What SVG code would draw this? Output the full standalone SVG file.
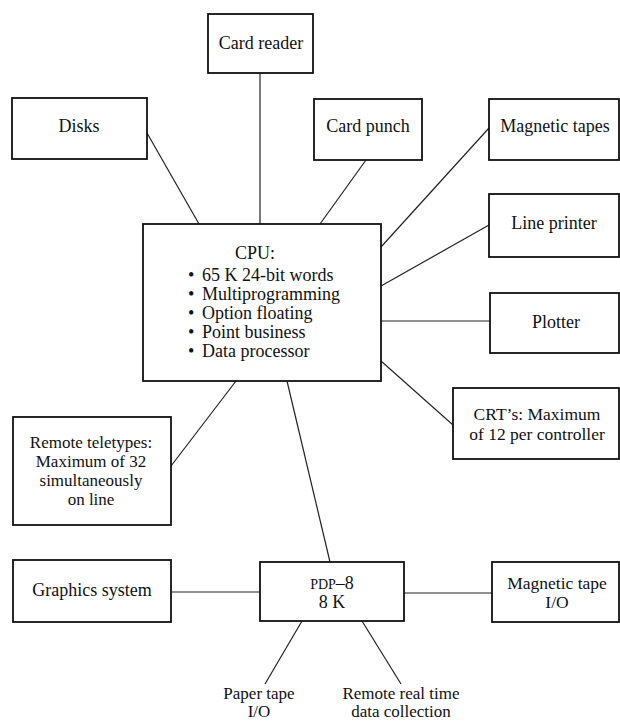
<svg xmlns="http://www.w3.org/2000/svg" width="620" height="721" viewBox="0 0 620 721">
<style>
.box{fill:#fff;stroke:#111;stroke-width:1.8}
.ln{stroke:#222;stroke-width:1.2;fill:none}
text{font-family:"Liberation Serif","Times New Roman",serif;font-size:18px;fill:#111}
.c{text-anchor:middle}
.m{font-size:17.5px}
.s{font-size:17px}
.sc{font-size:14px}
</style>
<rect width="620" height="721" fill="#fff"/>
<g id="connectors">
<line class="ln" x1="260" y1="73" x2="260" y2="224"/>
<line class="ln" x1="147" y1="133" x2="199" y2="224"/>
<line class="ln" x1="366" y1="160" x2="320" y2="224"/>
<line class="ln" x1="489" y1="128" x2="381" y2="247"/>
<line class="ln" x1="489" y1="225" x2="381" y2="286"/>
<line class="ln" x1="381" y1="321" x2="490" y2="321"/>
<line class="ln" x1="381" y1="361" x2="453" y2="425"/>
<line class="ln" x1="236" y1="381" x2="171" y2="466"/>
<line class="ln" x1="287" y1="381" x2="330" y2="562"/>
<line class="ln" x1="171" y1="592" x2="260" y2="592"/>
<line class="ln" x1="404" y1="593" x2="492" y2="593"/>
<line class="ln" x1="302" y1="621" x2="265" y2="684"/>
<line class="ln" x1="362" y1="621" x2="401" y2="684"/>
</g>
<g id="card-reader"><rect class="box" x="208" y="14" width="105" height="59"/><text class="c" x="261" y="49">Card reader</text></g>
<g id="disks"><rect class="box" x="12" y="98" width="135" height="61"/><text class="c" x="79" y="132">Disks</text></g>
<g id="card-punch"><rect class="box" x="314" y="99" width="108" height="61"/><text class="c" x="368" y="132">Card punch</text></g>
<g id="magnetic-tapes"><rect class="box" x="489" y="99" width="130" height="61"/><text class="c" x="555" y="132">Magnetic tapes</text></g>
<g id="line-printer"><rect class="box" x="489" y="194" width="130" height="63"/><text class="c" x="554" y="229">Line printer</text></g>
<g id="plotter"><rect class="box" x="490" y="293" width="129" height="60"/><text class="c" x="556" y="328">Plotter</text></g>
<g id="crt"><rect class="box" x="453" y="388" width="166" height="71"/><text class="c m" x="537" y="420">CRT’s: Maximum</text><text class="c m" x="537" y="440">of 12 per controller</text></g>
<g id="cpu"><rect class="box" x="143" y="224" width="238" height="157"/>
<text class="c" x="255" y="259">CPU:</text>
<text x="188" y="281">•</text><text x="202" y="281">65 K 24-bit words</text>
<text x="188" y="300">•</text><text x="202" y="300">Multiprogramming</text>
<text x="188" y="319">•</text><text x="202" y="319">Option floating</text>
<text x="188" y="338">•</text><text x="202" y="338">Point business</text>
<text x="188" y="357">•</text><text x="202" y="357">Data processor</text>
</g>
<g id="remote-teletypes"><rect class="box" x="13" y="417" width="158" height="108"/>
<text class="c s" x="91" y="448">Remote teletypes:</text>
<text class="c s" x="91" y="467">Maximum of 32</text>
<text class="c s" x="91" y="486">simultaneously</text>
<text class="c s" x="91" y="505">on line</text></g>
<g id="graphics-system"><rect class="box" x="13" y="560" width="158" height="62"/><text class="c" x="92" y="596">Graphics system</text></g>
<g id="pdp8"><rect class="box" x="260" y="562" width="144" height="59"/>
<text class="c" x="332" y="589"><tspan class="sc">PDP</tspan>–8</text>
<text class="c" x="332" y="608">8 K</text></g>
<g id="magnetic-tape-io"><rect class="box" x="492" y="562" width="127" height="60"/>
<text class="c m" x="557" y="589">Magnetic tape</text>
<text class="c m" x="557" y="608">I/O</text></g>
<g id="paper-tape"><text class="c s" x="259" y="699">Paper tape</text><text class="c s" x="259" y="717">I/O</text></g>
<g id="remote-real-time"><text class="c s" x="401" y="699">Remote real time</text><text class="c s" x="401" y="717">data collection</text></g>
</svg>
